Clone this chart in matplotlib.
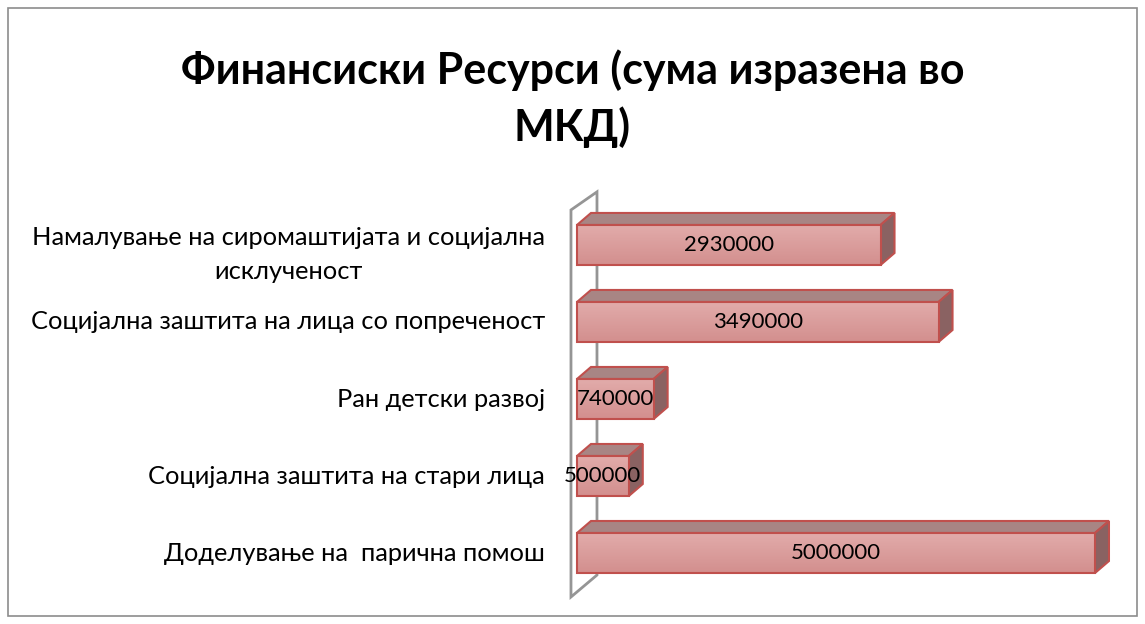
import numpy as np
import matplotlib.pyplot as plt
from matplotlib.patches import Polygon, Rectangle
from matplotlib.colors import LinearSegmentedColormap

categories = [
    "Доделување на  парична помош",
    "Социјална заштита на стари лица",
    "Ран детски развој",
    "Социјална заштита на лица со попреченост",
    "Намалување на сиромаштијата и социјална\nисклученост",
]
values = [5000000, 500000, 740000, 3490000, 2930000]
title = "Финансиски Ресурси (сума изразена во\nМКД)"

plt.rcParams['font.family'] = ['Lato', 'DejaVu Sans']

W, H = 1145, 624
fig = plt.figure(figsize=(W / 100, H / 100), dpi=100)

# outer chart border
fig.patches.append(Rectangle((8 / W, 8 / H), 1129 / W, 608 / H, transform=fig.transFigure,
                             fill=False, edgecolor="#8c8c8c", linewidth=1.2))

ax = fig.add_axes([560 / W, 1 - 610 / H, 570 / W, 430 / H])
xmin, xmax = -0.164e6, 5.338e6
ymin, ymax = -0.74, 4.844
ax.set_xlim(xmin, xmax)
ax.set_ylim(ymin, ymax)
ax.axis("off")

# 3d depth in data units
dx = 0.135e6
dy = 0.156
bh = 0.52

edge = "#c0504d"
top_c = "#a88584"
side_c = "#8a6262"

# side wall
wx0, wx1 = -0.058e6, 0.193e6
wall = [(wx0, -0.571), (wx0, 4.455), (wx1, 4.69), (wx1, -0.286)]
ax.add_patch(Polygon(wall, closed=True, fill=False, edgecolor="#959595", linewidth=2, zorder=1))

grad = np.linspace(0, 1, 64).reshape(-1, 1)
cmap = LinearSegmentedColormap.from_list("bar", ["#d38f8e", "#e2acab"])

for i, v in enumerate(values):
    y0, y1 = i - bh / 2, i + bh / 2
    top = [(0, y1), (v, y1), (v + dx, y1 + dy), (dx, y1 + dy)]
    side = [(v, y0), (v + dx, y0 + dy), (v + dx, y1 + dy), (v, y1)]
    ax.add_patch(Polygon(top, closed=True, facecolor=top_c, edgecolor=edge, linewidth=1.5, zorder=2))
    ax.add_patch(Polygon(side, closed=True, facecolor=side_c, edgecolor=edge, linewidth=1.5, zorder=2))
    front = Rectangle((0, y0), v, bh, facecolor="none", edgecolor=edge, linewidth=1.5, zorder=4)
    ax.add_patch(front)
    im = ax.imshow(grad, extent=(0, v, y0, y1), origin="lower", aspect="auto", cmap=cmap, zorder=3)
    im.set_clip_path(front)
    ax.text(v / 2, i, f"{v}", ha="center", va="center", fontsize=16, zorder=5)
    two_line = "\n" in categories[i]
    ax.text(-0.026, i - (0.12 if two_line else 0), categories[i], ha="right", va="center",
            multialignment="center", fontsize=18.3, linespacing=1.6,
            transform=ax.get_yaxis_transform(), clip_on=False)

ax.set_xlim(xmin, xmax)
ax.set_ylim(ymin, ymax)

fig.text(0.5, 1 - 99 / H, title, ha="center", va="center", fontsize=31, fontweight="bold",
         linespacing=1.45)

fig.savefig("out.png", dpi=100)
